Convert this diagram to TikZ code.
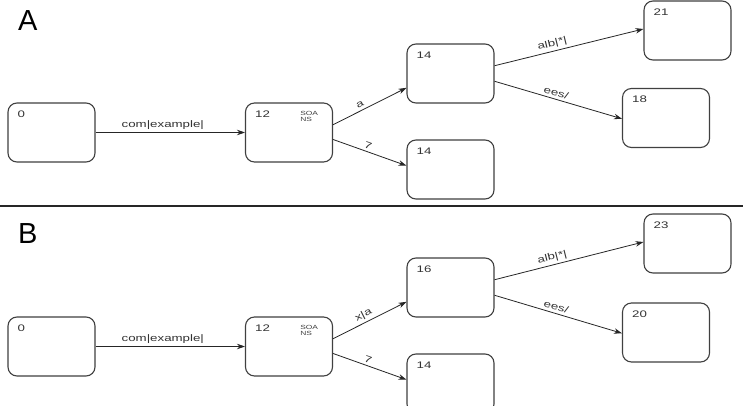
\documentclass[tikz,border=0pt]{standalone}
\usepackage{fontspec}
\setmainfont{Liberation Sans}
\newfontfamily\stretchfont[FakeStretch=1.4]{Liberation Sans}
\usetikzlibrary{arrows.meta}
\begin{document}
\begin{tikzpicture}[x=1pt,y=-1pt,
  box/.style={draw=black!75, line width=1.1pt, rounded corners=9pt, minimum width=87pt, minimum height=59pt, inner sep=0pt},
  numlbl/.style={anchor=north west, inner sep=0pt, xshift=10pt, yshift=-8pt, font=\stretchfont\fontsize{9.5}{10}\selectfont, text=black!80},
  soalbl/.style={anchor=north west, inner sep=0pt, xshift=-33pt, yshift=-9pt, align=left, font=\stretchfont\fontsize{6}{6}\selectfont, text=black!75},
  edge/.style={draw=black!85, line width=0.8pt, -{Stealth[length=8pt,width=5.5pt]}},
  elbl/.style={font=\stretchfont\fontsize{9.5}{10}\selectfont, text=black!80, inner sep=2.5pt},
  panel/.style={font=\fontsize{29}{29}\selectfont, anchor=base west, inner sep=0pt}]
\clip (0,0) rectangle (743,406);
\fill[white] (0,0) rectangle (743,406);
% panel labels and separator
\node[panel] (lA) at (18,31) {A};
\node[panel] (lB) at (18,243) {B};
\coordinate (sepL) at (0,206);
\coordinate (sepR) at (743,206);
\draw[line width=1.5pt, black!85] (sepL) -- (sepR);
% Panel A nodes
\node[box, label={[numlbl]north west:0}] (a0) at (51.5,132.5) {};
\node[box, label={[numlbl]north west:12}, label={[soalbl]north east:SOA\\NS}] (a12) at (289,132.5) {};
\node[box, label={[numlbl]north west:14}] (a14u) at (450.5,73.5) {};
\node[box, label={[numlbl]north west:14}] (a14l) at (450.5,169.5) {};
\node[box, label={[numlbl]north west:21}] (a21) at (687.5,30.5) {};
\node[box, label={[numlbl]north west:18}] (a18) at (666,118) {};
% Panel A edges
\draw[edge] (a0.east) -- node[elbl, pos=0.45, above] {com|example|} (a12.west);
\draw[edge] (a12.10) -- node[elbl, pos=0.4, above, sloped] {a} (a14u.198);
\draw[edge] (a12.-9) -- node[elbl, pos=0.45, above, sloped] {7} (a14l.175);
\draw[edge] (a14u.10) -- node[elbl, pos=0.4, above, sloped] {alb|*|} (a21.178);
\draw[edge] (a14u.-10) -- node[elbl, pos=0.47, above, sloped] {ees/} (a18.181);
% Panel B nodes
\node[box, label={[numlbl]north west:0}] (b0) at (51.5,346.5) {};
\node[box, label={[numlbl]north west:12}, label={[soalbl]north east:SOA\\NS}] (b12) at (289,346.5) {};
\node[box, label={[numlbl]north west:16}] (b16) at (450.5,287.5) {};
\node[box, label={[numlbl]north west:14}] (b14) at (450.5,383.5) {};
\node[box, label={[numlbl]north west:23}] (b23) at (687.5,243.5) {};
\node[box, label={[numlbl]north west:20}] (b20) at (666,332.5) {};
% Panel B edges
\draw[edge] (b0.east) -- node[elbl, pos=0.45, above] {com|example|} (b12.west);
\draw[edge] (b12.10) -- node[elbl, pos=0.46, above, sloped] {x|a} (b16.198);
\draw[edge] (b12.-9) -- node[elbl, pos=0.45, above, sloped] {7} (b14.175);
\draw[edge] (b16.10) -- node[elbl, pos=0.4, above, sloped] {alb|*|} (b23.178);
\draw[edge] (b16.-10) -- node[elbl, pos=0.47, above, sloped] {ees/} (b20.181);
\end{tikzpicture}
\end{document}
